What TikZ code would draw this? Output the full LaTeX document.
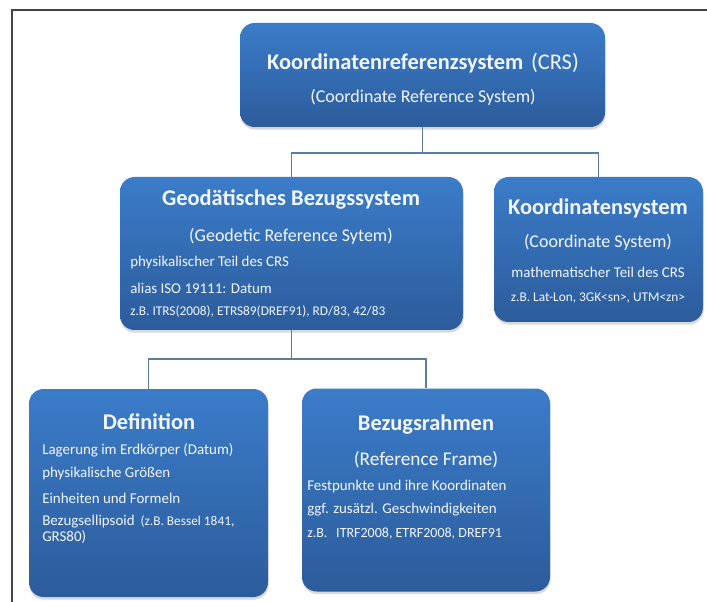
\documentclass[tikz,border=0pt]{standalone}
\usepackage{fontspec}
\setmainfont{Carlito}
\usetikzlibrary{shadows}
\definecolor{boxtop}{HTML}{3B7CC9}
\definecolor{boxbot}{HTML}{2C5C9B}
\definecolor{linkcol}{HTML}{5A7DA6}
\definecolor{framecol}{HTML}{444444}
\definecolor{boxtext}{HTML}{F3F6FB}
\begin{document}
\begin{tikzpicture}[x=0.75pt,y=-0.75pt,
  box/.style={rounded corners=11pt,top color=boxtop,bottom color=boxbot,inner sep=0pt,
    drop shadow={opacity=0.3,shadow xshift=0.4pt,shadow yshift=-2pt}},
  head/.style={text=boxtext,font=\bfseries\fontsize{16.8}{19}\selectfont},
  sub/.style={text=boxtext,font=\fontsize{13.5}{15}\selectfont},
  item/.style={text=boxtext,anchor=west,inner sep=0pt,font=\fontsize{11.2}{13}\selectfont},
  small/.style={item,font=\fontsize{10}{12}\selectfont},
  link/.style={draw=linkcol,line width=0.9pt}]
  \useasboundingbox (0,0) rectangle (707,602);
  \draw[framecol,line width=0.8pt] (12,602) -- (12,10) -- (707,10);

  \node[box,minimum width=273.75pt,minimum height=78pt] (crs) at (422.5,75) {};
  \node[box,minimum width=257.25pt,minimum height=114.75pt] (geo) at (291.5,253.5) {};
  \node[box,minimum width=156.75pt,minimum height=108.75pt] (ks) at (598.5,249.5) {};
  \node[box,minimum width=179.25pt,minimum height=156pt] (def) at (148.5,493) {};
  \node[box,minimum width=186pt,minimum height=152.25pt] (rahmen) at (426,490) {};

  \node[head] (crsT) at (423,63) {Koordinatenreferenzsystem\hspace{0.35em}\mdseries(CRS)};
  \node[sub] (crsS) at (423,97) {(Coordinate Reference System)};

  \node[head] (geoT) at (291,200) {Geodätisches Bezugssystem};
  \node[sub] (geoS) at (291,236) {(Geodetic Reference Sytem)};
  \node[item] (geo1) at (130,263) {physikalischer Teil des CRS};
  \node[item] (geo2) at (130,288) {alias ISO 19111: Datum};
  \node[small] (geo3) at (130,312) {z.B. ITRS(2008), ETRS89(DREF91), RD/83, 42/83};

  \node[head] (ksT) at (598,208) {Koordinatensystem};
  \node[sub] (ksS) at (598,242) {(Coordinate System)};
  \node[item,anchor=center] (ks1) at (598,272) {mathematischer Teil des CRS};
  \node[small,anchor=center] (ks2) at (598,298) {z.B. Lat-Lon, 3GK<sn>, UTM<zn>};

  \node[head] (defT) at (149,422) {Definition};
  \node[item] (def1) at (42,450) {Lagerung im Erdkörper (Datum)};
  \node[item] (def2) at (42,474) {physikalische Größen};
  \node[item] (def3) at (42,498) {Einheiten und Formeln};
  \node[item] (def4) at (42,522) {Bezugsellipsoid\hspace{0.4em}{\fontsize{10}{12}\selectfont(z.B. Bessel 1841,}};
  \node[item] (def5) at (42,537) {GRS80)};

  \node[head] (rahmenT) at (426,425) {Bezugsrahmen};
  \node[sub,font=\fontsize{14.5}{16}\selectfont] (rahmenS) at (426,460) {(Reference Frame)};
  \node[item] (rahmen1) at (307,487) {Festpunkte und ihre Koordinaten};
  \node[item] (rahmen2) at (307,510) {ggf. zusätzl. Geschwindigkeiten};
  \node[small,font=\fontsize{10.5}{12}\selectfont] (rahmen3) at (307,534) {z.B.\hspace{0.4em} ITRF2008, ETRF2008, DREF91};

  \coordinate (j1) at (422.5,153);
  \coordinate (j2) at (291.5,359);
  \draw[link] (crs.south) -- (j1);
  \draw[link] (geo.north) |- (j1) -| (ks.north);
  \draw[link] (geo.south) -- (j2);
  \draw[link] (def.north) |- (j2) -| (rahmen.north);
\end{tikzpicture}
\end{document}
